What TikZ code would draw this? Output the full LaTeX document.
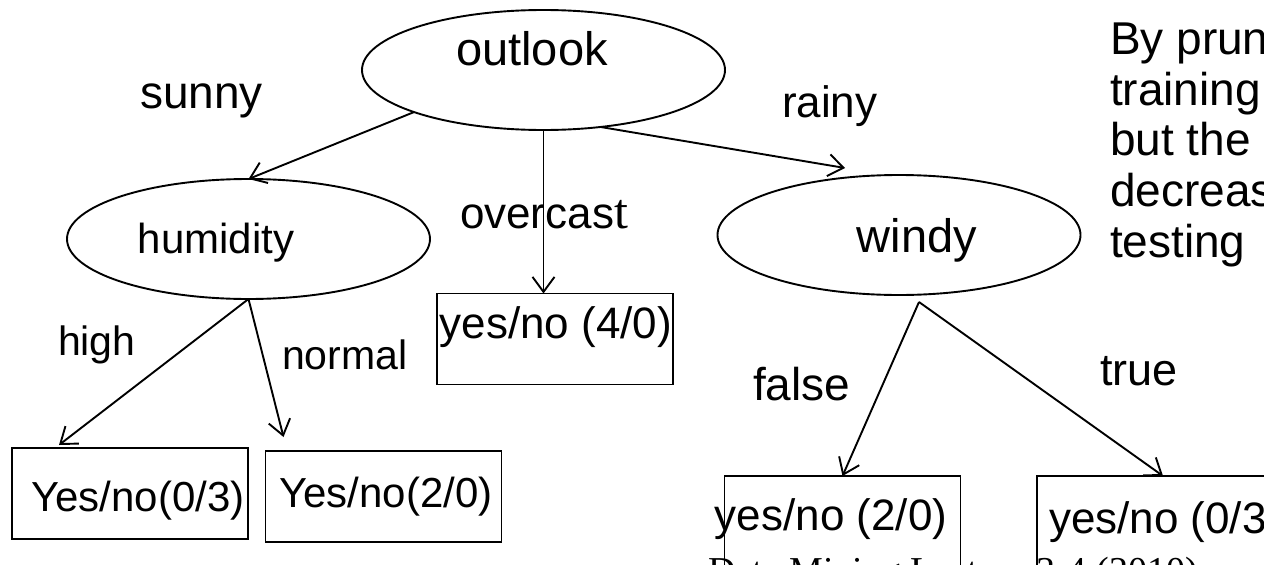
\documentclass[tikz,border=0pt]{standalone}
\usepackage{fontspec}
\setmainfont{Liberation Sans}
\newfontfamily\serifft{Liberation Serif}
\usetikzlibrary{arrows.meta,shapes.geometric,calc}
\begin{document}
\begin{tikzpicture}[x=1pt,y=-1pt,
  every node/.style={inner sep=0pt,outer sep=0pt},
  ellnode/.style={draw,ellipse,line width=1.9pt,minimum width=363pt,minimum height=120pt},
  leaf/.style={draw,rectangle,line width=1.9pt,minimum width=236pt,minimum height=91pt},
  arr/.style={line width=1.9pt,-{Straight Barb[length=15pt,width=22pt]}},
  txt/.style={anchor=base west,font=\fontsize{44}{52}\selectfont},
  txtc/.style={anchor=base,font=\fontsize{44}{52}\selectfont},
  note/.style={anchor=base west,font=\fontsize{46}{54}\selectfont},
  small/.style={anchor=base west,font=\fontsize{41}{48}\selectfont}]
\useasboundingbox (0,0) rectangle (1264,565);
\clip (0,0) rectangle (1264,565);

% tree nodes
\node[ellnode] (outlook) at (543.5,70) {};
\node[ellnode] (humidity) at (248.5,239) {};
\node[ellnode] (windy) at (899,235) {};
\node[leaf] (b40) at (555,339) {};
\node[leaf] (b03) at (130,493.5) {};
\node[leaf] (b20) at (383.5,496.5) {};
\node[leaf] (b20r) at (842.5,521.5) {};
\node[leaf] (b03r) at (1155,521.5) {};

% node texts
\node[anchor=base,font=\fontsize{47}{54}\selectfont] (toutlook) at (532,65) {outlook};
\node[anchor=base,font=\fontsize{42}{50}\selectfont] (thum) at (216,253) {humidity};
\node[anchor=base,font=\fontsize{47}{54}\selectfont] (twindy) at (917,252) {windy};
\node[txtc] (t40) at (556,338) {yes/no (4/0)};
\node[anchor=base,font=\fontsize{42}{50}\selectfont] (t03) at (138,511) {Yes/no(0/3)};
\node[anchor=base,font=\fontsize{42}{50}\selectfont] (t20) at (386,507) {Yes/no(2/0)};
\node[txtc] (t20r) at (831,530) {yes/no (2/0)};
\node[txt] (t03r) at (1049,533) {yes/no (0/3)};

% connectors
\coordinate (rtip) at ($(windy.north)+(-54,-7)$);
\coordinate (wstart) at ($(windy.south)+(20,7)$);
\draw[arr] (outlook.198) -- (humidity.north);
\draw[arr] (outlook.south) -- (outlook.south |- b40.north);
\draw[arr] (outlook.-45) -- (rtip);
\draw[arr] (humidity.south) -- ($(b03.north west)+(47,-3)$);
\draw[arr] (humidity.south) -- ($(b20.north west)+(18,-14)$);
\draw[arr] (wstart) -- (b20r.north);
\draw[arr] (wstart) -- ($(b03r.north)+(8,0)$);

% edge labels
\node[anchor=base west,font=\fontsize{46}{54}\selectfont] (lsunny) at (140,108) {sunny};
\node[txt] (lrainy) at (782,117) {rainy};
\node[txt] (lover) at (460,228) {overcas{\serifft\fontsize{50}{56}\selectfont t}};
\node[small] (lhigh) at (58,355) {high};
\node[small] (lnormal) at (282,369) {normal};
\node[anchor=base west,font=\fontsize{46}{54}\selectfont] (lfalse) at (753,400) {false};
\node[anchor=base west,font=\fontsize{45}{52}\selectfont] (ltrue) at (1100,385) {true};

% side note (cut off at the right edge, as in the reference)
\node[note] (n1) at (1110,54) {By pruning, the error rate on the};
\node[note] (n2) at (1110,105) {training data increases,};
\node[note] (n3) at (1110,155) {but the error rate};
\node[note] (n4) at (1110,206) {decreases on the};
\node[note] (n5) at (1110,257) {testing};

% footer (cut off at the bottom edge, as in the reference)
\node[anchor=base west,font=\serifft\fontsize{38}{44}\selectfont] (footer) at (708,583) {Data Mining Lecture 3-4 (2010)};
\end{tikzpicture}
\end{document}
